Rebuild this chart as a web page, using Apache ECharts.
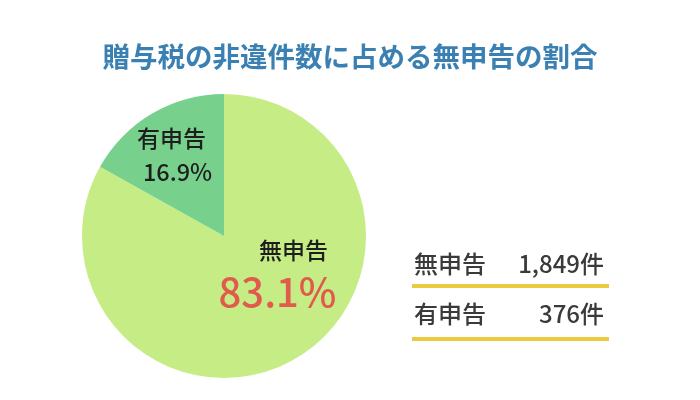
<!DOCTYPE html>
<html><head><meta charset="utf-8">
<script src="https://cdn.jsdelivr.net/npm/echarts@6/dist/echarts.min.js"></script>
<style>html,body{margin:0;padding:0;background:#fff}#c{width:700px;height:400px}</style>
</head><body><div id="c"></div>
<script>
const titleText = '贈与税の非違件数に占める無申告の割合';
const categories = ['無申告', '有申告'];
const percents = [83.1, 16.9];
const counts = ['1,849', '376'];
const colors = ['#c6ec86', '#78d08d'];

const FONT = '"Noto Sans CJK JP", "Noto Sans", sans-serif';
const chart = echarts.init(document.getElementById('c'));

const rowTextY = [264, 314];
const rowLineY = [284, 337];
const tableGraphics = [];
categories.forEach((cat, i) => {
  tableGraphics.push({type: 'text', x: 414, y: rowTextY[i], style: {text: cat, font: '500 24px ' + FONT, fill: '#3a3a3a', textVerticalAlign: 'middle'}});
  tableGraphics.push({type: 'text', x: 604, y: rowTextY[i], style: {text: counts[i] + '件', font: '500 24px ' + FONT, fill: '#3a3a3a', textAlign: 'right', textVerticalAlign: 'middle'}});
  tableGraphics.push({type: 'rect', shape: {x: 412, y: rowLineY[i], width: 197, height: 4}, style: {fill: '#ecc93f'}});
});

chart.setOption({
  animation: false,
  title: {text: titleText, left: 'center', top: 38, textStyle: {fontFamily: FONT, fontSize: 27.5, fontWeight: 'bold', color: '#3a80b2'}},
  graphic: tableGraphics,
  series: [{
    type: 'pie',
    center: [224, 236],
    radius: [0, 142],
    startAngle: 90,
    clockwise: true,
    data: categories.map((c, i) => ({name: c, value: percents[i], itemStyle: {color: colors[i]}})),
    label: {
      position: 'inside',
      fontFamily: FONT,
      formatter: p => p.dataIndex === 0
        ? '{n0|' + p.name + '}\n{big|' + p.value.toFixed(1) + '%}'
        : '{n|' + p.name + '}\n{v|' + p.value.toFixed(1) + '%}',
      rich: {
        n0: {fontFamily: FONT, fontSize: 23, fontWeight: 500, color: '#1e1e1e', lineHeight: 34, align: 'center', padding: [0, 0, 0, 32]},
        n: {fontFamily: FONT, fontSize: 23, fontWeight: 500, color: '#1e1e1e', lineHeight: 33, align: 'center', padding: [0, 12, 0, 0]},
        v: {fontFamily: FONT, fontSize: 23.5, fontWeight: 500, color: '#1e1e1e', lineHeight: 33, align: 'center'},
        big: {fontFamily: FONT, fontSize: 40, fontWeight: 500, color: '#e05b4b', lineHeight: 50, align: 'center'}
      }
    },
    labelLayout: p => p.dataIndex === 0 ? {dx: 16, dy: -25} : {dx: -9, dy: -17},
    labelLine: {show: false},
    emphasis: {disabled: true}
  }]
});
</script></body></html>
